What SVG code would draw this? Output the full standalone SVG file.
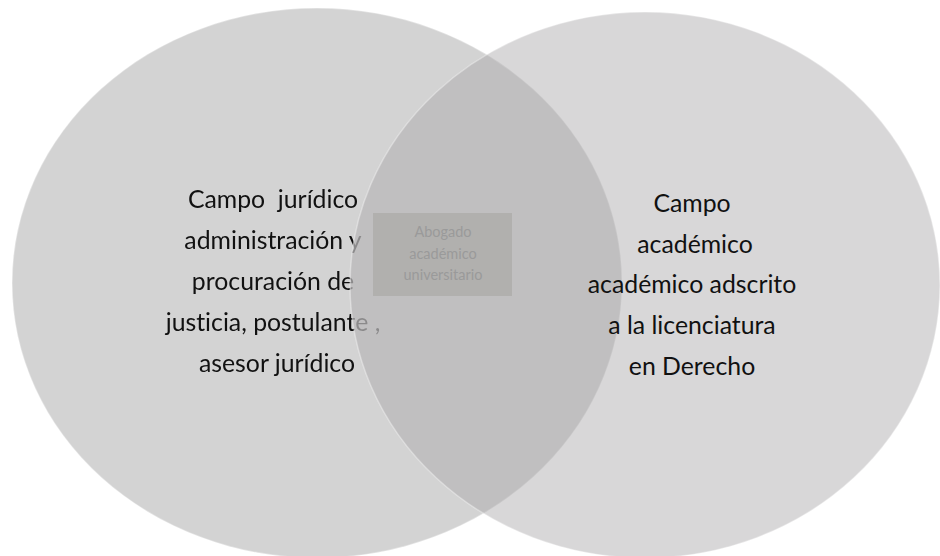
<svg xmlns="http://www.w3.org/2000/svg" width="940" height="556" viewBox="0 0 940 556">
  <style>
    .big { font-family: Lato, "Liberation Sans", sans-serif; font-size: 24.8px; fill: #111; text-anchor: middle; font-variant-ligatures: none; }
    .small { font-family: Lato, "Liberation Sans", sans-serif; font-size: 14.5px; fill: #9a9a9a; text-anchor: middle; font-variant-ligatures: none; }
    .rim { stroke: #ffffff; stroke-opacity: 0.35; stroke-width: 1.5; }
  </style>
  <defs>
    <mask id="fade-under-right" maskUnits="userSpaceOnUse" x="0" y="0" width="940" height="556">
      <rect width="940" height="556" fill="#ffffff"/>
      <ellipse cx="645" cy="285" rx="295" ry="273" fill="#808080"/>
    </mask>
  </defs>
  <rect width="940" height="556" fill="#ffffff"/>
  <g id="circle-left">
    <ellipse class="rim" cx="317" cy="283" rx="305" ry="275" fill="#d3d3d3"/>
    <g mask="url(#fade-under-right)">
      <text class="big" x="273" y="208" xml:space="preserve">Campo  jurídico</text>
      <text class="big" x="273" y="249">administración y</text>
      <text class="big" x="273" y="290">procuración de</text>
      <text class="big" x="273" y="331">justicia, postulante ,</text>
      <text class="big" x="277" y="372">asesor jurídico</text>
    </g>
  </g>
  <g id="circle-right">
    <ellipse class="rim" cx="645" cy="285" rx="295" ry="273" fill="#aaa8a9" fill-opacity="0.455"/>
    <text class="big" x="692" y="212">Campo</text>
    <text class="big" x="695" y="253">académico</text>
    <text class="big" x="692" y="293">académico adscrito</text>
    <text class="big" x="692" y="334">a la licenciatura</text>
    <text class="big" x="692" y="375">en Derecho</text>
  </g>
  <g id="overlap">
    <rect x="373" y="213" width="139" height="83" fill="#b1b0ae"/>
    <text class="small" x="443" y="237">Abogado</text>
    <text class="small" x="443" y="259">académico</text>
    <text class="small" x="443" y="280">universitario</text>
  </g>
</svg>
